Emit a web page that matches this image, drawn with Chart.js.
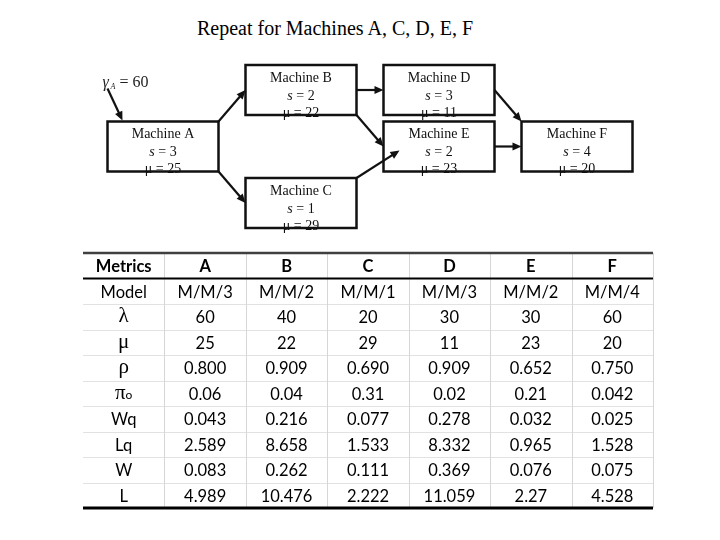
<!DOCTYPE html>
<html>
<head>
<meta charset="utf-8">
<script src="https://cdn.jsdelivr.net/npm/chart.js@4.4.1/dist/chart.umd.min.js"></script>
<style>
  html, body { margin: 0; background: #fff; }
  #page { position: relative; width: 720px; height: 540px; overflow: hidden; }
  #title { position: absolute; left: 0; top: 17px; width: 670px; text-align: center;
           font: 20px "Liberation Serif", "Times New Roman", serif; color: #000; }
  #flowBox { position: absolute; left: 0; top: 0; width: 720px; height: 240px; }
  #tableBox { position: absolute; left: 73px; top: 243px; width: 590px; height: 275px; }
</style>
</head>
<body>
<div id="page">
  <div id="title">Repeat for Machines A, C, D, E, F</div>
  <div id="flowBox"><canvas id="flow"></canvas></div>
  <div id="tableBox"><canvas id="table"></canvas></div>
</div>
<script>
/* ---------- DATA ---------- */
const machines = ["A", "B", "C", "D", "E", "F"];
const servers = [3, 2, 1, 3, 2, 4];
const lambda = [60, 40, 20, 30, 30, 60];
const mu = [25, 22, 29, 11, 23, 20];
const rho = ["0.800", "0.909", "0.690", "0.909", "0.652", "0.750"];
const pi0 = ["0.06", "0.04", "0.31", "0.02", "0.21", "0.042"];
const wq = ["0.043", "0.216", "0.077", "0.278", "0.032", "0.025"];
const lq = ["2.589", "8.658", "1.533", "8.332", "0.965", "1.528"];
const w = ["0.083", "0.262", "0.111", "0.369", "0.076", "0.075"];
const l = ["4.989", "10.476", "2.222", "11.059", "2.27", "4.528"];
const arrivalA = 60;
const edges = [["A","B"], ["A","C"], ["B","D"], ["B","E"], ["C","E"], ["D","F"], ["E","F"]];
const headerLabel = "Metrics";
const rowLabels = ["Model", "λ", "μ", "ρ", "πo", "Wq", "Lq", "W", "L"];

/* ---------- LAYOUT ---------- */
const nodeCol = [0, 1, 1, 2, 2, 3];
const nodeRow = [1, 0, 2, 0, 1, 1];
const edgeAnchors = [["ne","w"], ["se","w"], ["e","w"], ["se","w"], ["ne","wi"], ["e","nw"], ["e","w"]];
const BOX_W = 111, BOX_H = 50;
const SERIF = '"Liberation Serif", "Times New Roman", serif';
const SANS = 'Lato, "Open Sans", sans-serif';

/* ---------- HELPERS ---------- */
function anchor(b, name) {
  const cx = b.x, cy = b.y, L = b.x - BOX_W / 2, R = b.x + BOX_W / 2, T = b.y - BOX_H / 2, B = b.y + BOX_H / 2;
  switch (name) {
    case "ne": return [R, T];
    case "se": return [R, B];
    case "nw": return [L, T];
    case "e": return [R, cy];
    case "wi": return [L + 16, cy + 4];
    default: return [L, cy];
  }
}

function arrow(ctx, x1, y1, x2, y2) {
  const a = Math.atan2(y2 - y1, x2 - x1), len = 9, hw = 4;
  ctx.beginPath();
  ctx.moveTo(x1, y1);
  ctx.lineTo(x2 - Math.cos(a) * len * 0.8, y2 - Math.sin(a) * len * 0.8);
  ctx.stroke();
  ctx.beginPath();
  ctx.moveTo(x2, y2);
  ctx.lineTo(x2 - Math.cos(a) * len - Math.sin(a) * hw, y2 - Math.sin(a) * len + Math.cos(a) * hw);
  ctx.lineTo(x2 - Math.cos(a) * len + Math.sin(a) * hw, y2 - Math.sin(a) * len - Math.cos(a) * hw);
  ctx.closePath();
  ctx.fill();
}

/* ---------- FLOW DIAGRAM ---------- */
const flowPlugin = {
  id: "flowBoxes",
  afterDatasetsDraw(chart) {
    const ctx = chart.ctx;
    const pts = chart.getDatasetMeta(0).data;
    const pos = {};
    machines.forEach((m, i) => { pos[m] = { x: pts[i].x, y: pts[i].y }; });
    ctx.save();
    ctx.fillStyle = "#111";
    ctx.strokeStyle = "#111";
    ctx.textAlign = "center";
    ctx.textBaseline = "middle";

    machines.forEach((m, i) => {
      const b = pos[m];
      const L = b.x - BOX_W / 2, T = b.y - BOX_H / 2;
      ctx.save();
      ctx.beginPath();
      ctx.rect(L, T, BOX_W, BOX_H + 5);
      ctx.clip();
      ctx.font = "14px " + SERIF;
      ctx.fillText("Machine " + m, b.x, b.y - 12);
      // s = n, with italic s
      const rest = " = " + servers[i];
      const wr = ctx.measureText(rest).width;
      ctx.font = "italic 14px " + SERIF;
      const ws = ctx.measureText("s").width;
      const x0 = b.x - (wr + ws) / 2;
      ctx.textAlign = "left";
      ctx.fillText("s", x0, b.y + 6);
      ctx.font = "14px " + SERIF;
      ctx.fillText(rest, x0 + ws, b.y + 6);
      ctx.textAlign = "center";
      ctx.fillText("μ = " + mu[i], b.x, b.y + 23);
      ctx.restore();
      ctx.lineWidth = 2.5;
      ctx.strokeRect(L, T, BOX_W, BOX_H);
    });

    ctx.lineWidth = 2.2;
    edges.forEach(([f, t], k) => {
      const [x1, y1] = anchor(pos[f], edgeAnchors[k][0]);
      const [x2, y2] = anchor(pos[t], edgeAnchors[k][1]);
      arrow(ctx, x1, y1, x2, y2);
    });

    // external arrival into A
    const a = pos["A"];
    const aL = a.x - BOX_W / 2, aT = a.y - BOX_H / 2;
    arrow(ctx, aL, aT - 33, aL + 15, aT - 1);
    ctx.textAlign = "left";
    ctx.fillStyle = "#222";
    ctx.font = "italic 16px " + SERIF;
    ctx.fillText("γ", aL - 5, aT - 39);
    ctx.font = "italic 8px " + SERIF;
    ctx.fillText("A", aL + 3, aT - 35);
    ctx.font = "16px " + SERIF;
    ctx.fillText("= " + arrivalA, aL + 12, aT - 39);
    ctx.restore();
  }
};

new Chart(document.getElementById("flow"), {
  type: "scatter",
  data: {
    datasets: [{
      data: machines.map((m, i) => ({ x: nodeCol[i], y: nodeRow[i] })),
      pointRadius: 0
    }]
  },
  options: {
    responsive: true,
    maintainAspectRatio: false,
    animation: false,
    events: [],
    devicePixelRatio: 1,
    layout: { padding: { left: 163, right: 143, top: 90, bottom: 37 } },
    plugins: { legend: { display: false }, tooltip: { enabled: false } },
    scales: {
      x: { type: "linear", min: 0, max: 3, display: false },
      y: { type: "linear", min: 0, max: 2, reverse: true, display: false }
    }
  },
  plugins: [flowPlugin]
});

/* ---------- TABLE ---------- */
const header = [headerLabel].concat(machines);
const bodyRows = [
  machines.map((m, i) => "M/M/" + servers[i]),
  lambda.map(String),
  mu.map(String),
  rho, pi0, wq, lq, w, l
];

const cells = [];
header.forEach((h, c) => cells.push({ x: c, y: 0, text: h, bold: true }));
bodyRows.forEach((vals, r) => {
  cells.push({ x: 0, y: r + 1, text: rowLabels[r], bold: false, greek: /[λμρπ]/.test(rowLabels[r]) });
  vals.forEach((v, c) => cells.push({ x: c + 1, y: r + 1, text: v, bold: false }));
});

const tablePlugin = {
  id: "tableGrid",
  beforeDatasetsDraw(chart) {
    const { ctx, scales: { x, y } } = chart;
    const nCols = header.length, nRows = bodyRows.length + 1;
    const left = x.getPixelForValue(-0.5), right = x.getPixelForValue(nCols - 0.5);
    const top = y.getPixelForValue(-0.5), bottom = y.getPixelForValue(nRows - 0.5);
    ctx.save();
    ctx.lineWidth = 1;
    ctx.strokeStyle = "#e2e2e2";
    for (let r = 1; r < nRows - 1; r++) {
      const yy = Math.round(y.getPixelForValue(r + 0.5)) + 0.5;
      ctx.beginPath(); ctx.moveTo(left, yy); ctx.lineTo(right, yy); ctx.stroke();
    }
    ctx.strokeStyle = "#d6d6d6";
    for (let c = 0; c < nCols; c++) {
      const xx = Math.round(x.getPixelForValue(c + 0.5)) + 0.5;
      ctx.beginPath(); ctx.moveTo(xx, top); ctx.lineTo(xx, bottom); ctx.stroke();
    }
    ctx.strokeStyle = "#404040";
    ctx.lineWidth = 2.5;
    ctx.beginPath(); ctx.moveTo(left, top); ctx.lineTo(right, top); ctx.stroke();
    ctx.strokeStyle = "#000";
    ctx.lineWidth = 2.2;
    const hy = y.getPixelForValue(0.5);
    ctx.beginPath(); ctx.moveTo(left, hy); ctx.lineTo(right, hy); ctx.stroke();
    ctx.lineWidth = 3;
    ctx.beginPath(); ctx.moveTo(left, bottom); ctx.lineTo(right, bottom); ctx.stroke();
    ctx.restore();
  },
  afterDatasetsDraw(chart) {
    const ctx = chart.ctx;
    const pts = chart.getDatasetMeta(0).data;
    ctx.save();
    ctx.fillStyle = "#000";
    ctx.textAlign = "center";
    ctx.textBaseline = "middle";
    pts.forEach((p, i) => {
      const d = cells[i];
      if (d.greek && d.text.length > 1) {
        // pi with a small trailing o
        ctx.font = "21px " + SERIF;
        const wp = ctx.measureText(d.text[0]).width;
        ctx.font = "12px " + SANS;
        const wo = ctx.measureText(d.text.slice(1)).width;
        const x0 = p.x - (wp + wo) / 2;
        ctx.textAlign = "left";
        ctx.font = "21px " + SERIF;
        ctx.fillText(d.text[0], x0, p.y);
        ctx.font = "12px " + SANS;
        ctx.fillText(d.text.slice(1), x0 + wp, p.y + 2);
        ctx.textAlign = "center";
      } else if (d.greek) {
        ctx.font = "21px " + SERIF;
        ctx.fillText(d.text, p.x, p.y);
      } else {
        ctx.font = (d.bold ? "bold " : "") + "16.5px " + SANS;
        ctx.fillText(d.text, p.x, p.y + 1);
      }
    });
    ctx.restore();
  }
};

new Chart(document.getElementById("table"), {
  type: "scatter",
  data: { datasets: [{ data: cells, pointRadius: 0 }] },
  options: {
    responsive: true,
    maintainAspectRatio: false,
    animation: false,
    events: [],
    devicePixelRatio: 1,
    layout: { padding: 10 },
    plugins: { legend: { display: false }, tooltip: { enabled: false } },
    scales: {
      x: { type: "linear", min: -0.5, max: header.length - 0.5, display: false },
      y: { type: "linear", min: -0.5, max: bodyRows.length + 0.5, reverse: true, display: false }
    }
  },
  plugins: [tablePlugin]
});
</script>
</body>
</html>
